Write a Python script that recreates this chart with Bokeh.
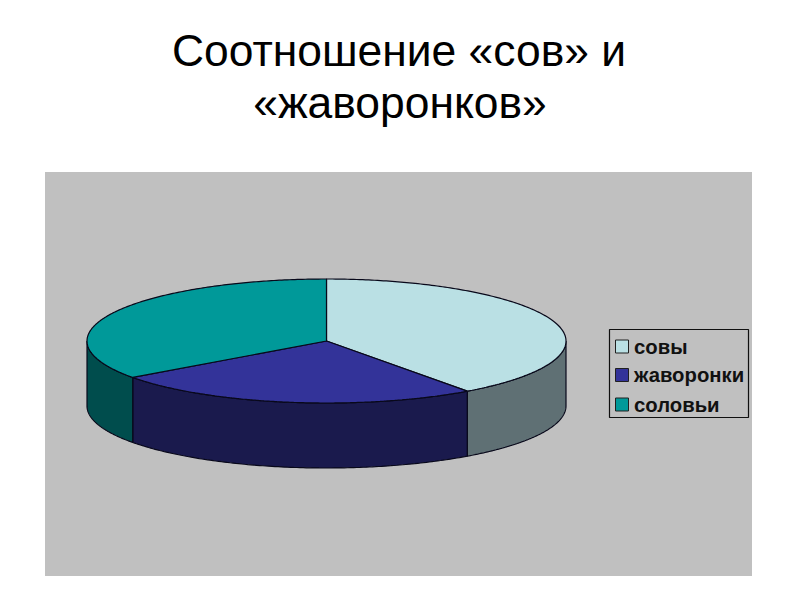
import numpy as np
from bokeh.plotting import figure
from bokeh.models import Range1d
from bokeh.core.properties import value
from bokeh.embed import file_html
from bokeh.resources import INLINE

title_lines = ["Соотношение «сов» и", "«жаворонков»"]
categories = ["совы", "жаворонки", "соловьи"]
shares = [40, 25, 35]
top_colors = ["#BAE0E4", "#333399", "#009999"]
side_colors = ["#5F7074", "#1A1A4D", "#004D4D"]

CX, CY, RX, RY, DEPTH = 326.5, 341.0, 239.5, 62.0, 65.0

p = figure(width=784, height=584, output_backend="svg", toolbar_location=None,
           x_axis_type=None, y_axis_type=None, min_border=0,
           x_range=Range1d(0.5, 784.5), y_range=Range1d(584.5, 0.5),
           background_fill_color="white", border_fill_color="white",
           outline_line_color=None)
p.grid.visible = False

# plot area
p.quad(left=[45], right=[752], top=[172], bottom=[576], fill_color="#C0C0C0", line_color=None)

# pie
ends = np.cumsum(shares) / np.sum(shares) * 2 * np.pi
starts = np.concatenate([[0.0], ends[:-1]])


def px(t):
    return CX + RX * np.sin(t)


def py(t):
    return CY - RY * np.cos(t)


# walls: only the front half (pi/2 .. 3pi/2 measured clockwise from top)
for a, b, col in zip(starts, ends, side_colors):
    lo, hi = max(a, np.pi / 2), min(b, 3 * np.pi / 2)
    if hi <= lo:
        continue
    t = np.linspace(lo, hi, 120)
    xs = np.concatenate([px(t), px(t[::-1])])
    ys = np.concatenate([py(t), py(t[::-1]) + DEPTH])
    p.patch(xs, ys, fill_color=col, line_color="#08081A", line_width=1.2)

# top faces
for a, b, col in zip(starts, ends, top_colors):
    t = np.linspace(a, b, 200)
    xs = np.concatenate([[CX], px(t)])
    ys = np.concatenate([[CY], py(t)])
    p.patch(xs, ys, fill_color=col, line_color="#08081A", line_width=1.2)

# legend
p.quad(left=[609.5], right=[748.5], top=[329.5], bottom=[417.5],
       fill_color="#C0C0C0", line_color="#101010", line_width=1.2)
leg_y = [346.5, 375, 404.5]
p.quad(left=[615.5] * 3, right=[628.5] * 3,
       top=[y - 6.5 for y in leg_y], bottom=[y + 6.5 for y in leg_y],
       fill_color=top_colors, line_color="#202020", line_width=1)
p.text(x=[634] * 3, y=leg_y, text=categories, text_font=value("Liberation Sans"),
       text_font_size="20.3px", text_font_style="bold", text_color="#111111",
       text_align="left", text_baseline="middle")

# title
p.text(x=[399, 400], y=[50, 102], text=title_lines, text_font=value("Liberation Sans"),
       text_font_size="44.4px", text_color="black", text_align="center",
       text_baseline="alphabetic")

open("out.html", "w").write(file_html(p, INLINE))
